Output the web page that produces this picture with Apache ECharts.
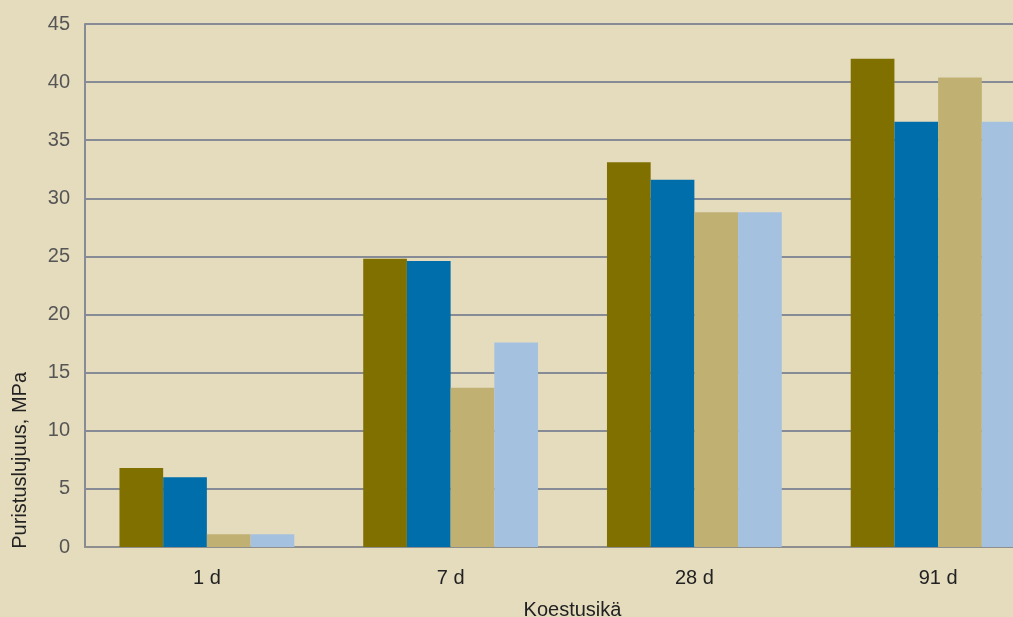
<!DOCTYPE html>
<html><head><meta charset="utf-8">
<script src="https://cdn.jsdelivr.net/npm/echarts@6/dist/echarts.min.js"></script>
<style>html,body{margin:0;padding:0;background:#E5DCBE;}#c{width:1013px;height:617px;}</style>
</head><body><div id="c"></div>
<script>
const categories = ['1 d', '7 d', '28 d', '91 d'];
const seriesA = [6.8, 24.8, 33.1, 42.0];
const seriesB = [6.0, 24.6, 31.6, 36.6];
const seriesC = [1.1, 13.7, 28.8, 40.4];
const seriesD = [1.1, 17.6, 28.8, 36.6];
const yTicks = [0, 5, 10, 15, 20, 25, 30, 35, 40, 45];

const colors = ['#7F7000', '#006EAA', '#C0B173', '#A5C1E0'];
const font = 'Liberation Sans, Arial, sans-serif';
const chart = echarts.init(document.getElementById('c'));
const mk = (d, i) => ({type: 'bar', data: d, barWidth: 43.7, barGap: '0%', itemStyle: {color: colors[i]}, z: 3});
chart.setOption({
  backgroundColor: '#E5DCBE',
  animation: false,
  grid: {left: 85, right: -47, top: 24, bottom: 70, containLabel: false, outerBoundsMode: 'none'},
  xAxis: {
    type: 'category', data: categories,
    axisLine: {show: true, lineStyle: {color: '#8E8E8E', width: 2}},
    axisTick: {show: false},
    axisLabel: {color: '#222', fontSize: 20, fontFamily: font, margin: 21},
    name: 'Koestusikä', nameLocation: 'middle', nameGap: 53,
    nameTextStyle: {color: '#222', fontSize: 20, fontFamily: font}
  },
  yAxis: {
    type: 'value', min: yTicks[0], max: yTicks[yTicks.length - 1], interval: 5,
    axisLine: {show: true, lineStyle: {color: '#868B95', width: 2}},
    axisTick: {show: false},
    splitLine: {show: true, lineStyle: {color: '#868B95', width: 2}},
    axisLabel: {color: '#555', fontSize: 20, fontFamily: font, margin: 15}
  },
  graphic: [{
    type: 'text', left: 10, top: 372, rotation: Math.PI / 2,
    style: {text: 'Puristuslujuus, MPa', fill: '#222', font: '20px ' + font}
  }],
  series: [mk(seriesA, 0), mk(seriesB, 1), mk(seriesC, 2), mk(seriesD, 3)]
});
</script></body></html>
